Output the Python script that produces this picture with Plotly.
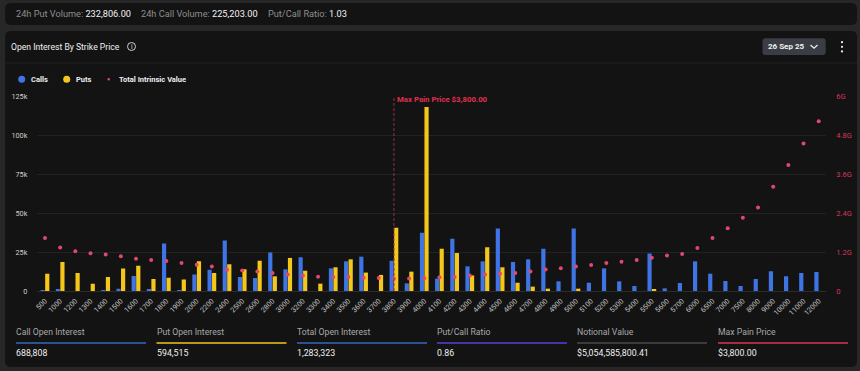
import plotly.graph_objects as go

W, H = 860, 371

strikes = ["500", "1000", "1200", "1300", "1400", "1500", "1600", "1700", "1800", "1900",
           "2000", "2200", "2400", "2500", "2600", "2800", "3000", "3200", "3300", "3400",
           "3500", "3600", "3700", "3800", "3900", "4000", "4100", "4200", "4300", "4400",
           "4500", "4600", "4700", "4800", "4900", "5000", "5100", "5200", "5300", "5400",
           "5500", "5600", "5700", "6000", "6500", "7000", "7500", "8000", "9000", "10000",
           "11000", "12000"]

calls_oi_k = [0.2, 1.3, 0, 0, 0.3, 1.5, 9.6, 1.0, 30.5, 0.3,
              10.5, 13.7, 32.3, 9.0, 8.3, 24.6, 13.9, 21.6, 0, 14.5,
              19.0, 22.0, 0, 19.4, 4.9, 37.4, 7.9, 33.5, 15.8, 19.0,
              40.0, 18.6, 20.3, 27.1, 6.2, 40.0, 5.3, 14.5, 6.2, 3.2,
              24.1, 1.7, 5.1, 19.0, 11.1, 6.4, 3.2, 7.7, 12.6, 9.4,
              11.5, 12.2]

puts_oi_k = [11.1, 18.6, 11.5, 4.7, 9.0, 14.5, 16.2, 7.7, 8.5, 7.3,
             19.0, 11.5, 17.1, 13.9, 19.4, 9.4, 21.2, 13.0, 4.7, 15.2,
             20.3, 11.8, 10.3, 40.6, 12.4, 118.0, 27.1, 24.4, 10.0, 28.0,
             15.2, 5.3, 2.8, 1.5, 0, 1.5, 0, 0, 0, 0,
             0.8, 0, 0, 0, 0, 0, 0, 0, 0, 0,
             0, 0]

intrinsic_g = [1.63, 1.34, 1.22, 1.16, 1.12, 1.07, 0.99, 0.95, 0.92, 0.86,
               0.81, 0.75, 0.65, 0.63, 0.60, 0.55, 0.51, 0.48, 0.44, 0.43,
               0.43, 0.41, 0.40, 0.38, 0.385, 0.395, 0.42, 0.43, 0.48, 0.51,
               0.53, 0.55, 0.60, 0.66, 0.70, 0.75, 0.80, 0.86, 0.90, 0.95,
               1.02, 1.09, 1.14, 1.32, 1.63, 1.93, 2.25, 2.57, 3.21, 3.88,
               4.54, 5.22]

left_tick_vals = [0, 25000, 50000, 75000, 100000, 125000]
left_tick_text = ["0", "25k", "50k", "75k", "100k", "125k"]
right_tick_vals = [0, 1.2e9, 2.4e9, 3.6e9, 4.8e9, 6e9]
right_tick_text = ["0", "1.2G", "2.4G", "3.6G", "4.8G", "6G"]

max_pain_strike = "3800"
max_pain_label = "Max Pain Price $3,800.00"

top_labels = ["24h Put Volume:", "24h Call Volume:", "Put/Call Ratio:"]
top_values = ["232,806.00", "225,203.00", "1.03"]

summary_labels = ["Call Open Interest", "Put Open Interest", "Total Open Interest",
                  "Put/Call Ratio", "Notional Value", "Max Pain Price"]
summary_values = ["688,808", "594,515", "1,283,323", "0.86", "$5,054,585,800.41", "$3,800.00"]

# ---- styles ----
FONT = "Roboto, 'Open Sans', sans-serif"
OUTER_BG = "#272727"
PANEL_BG = "#131313"
CALL_C = "#3f74e4"
PUT_C = "#f5c71a"
DOT_C = "#e2476c"
RED_TXT = "#d8365a"
summary_colors = ["#3a66c4", PUT_C, "#3a66c4", "#5a3fd6", "#4a4a4a", "#d8364f"]

calls_oi = [v * 1000 for v in calls_oi_k]
puts_oi = [v * 1000 for v in puts_oi_k]
intrinsic = [v * 1e9 for v in intrinsic_g]


def px(x):
    return x / W


def py(y):
    return 1 - y / H


def rrect(x0, y0, x1, y1, r):
    pts = [
        f"M{px(x0 + r)},{py(y0)}",
        f"L{px(x1 - r)},{py(y0)}",
        f"Q{px(x1)},{py(y0)} {px(x1)},{py(y0 + r)}",
        f"L{px(x1)},{py(y1 - r)}",
        f"Q{px(x1)},{py(y1)} {px(x1 - r)},{py(y1)}",
        f"L{px(x0 + r)},{py(y1)}",
        f"Q{px(x0)},{py(y1)} {px(x0)},{py(y1 - r)}",
        f"L{px(x0)},{py(y0 + r)}",
        f"Q{px(x0)},{py(y0)} {px(x0 + r)},{py(y0)}",
        "Z",
    ]
    return " ".join(pts)


def note(x, y, text, size, color=None, xanchor="left", xref="paper", **kw):
    d = dict(x=x, y=y, xref=xref, yref="paper", xanchor=xanchor, yanchor="middle",
             showarrow=False, text=text, borderpad=0, borderwidth=0,
             font=dict(family=FONT, size=size, color=color))
    d.update(kw)
    return d


fig = go.Figure()

fig.add_trace(go.Bar(x=strikes, y=calls_oi, name="Calls", marker_color=CALL_C,
                     marker_line_width=0, showlegend=False))
fig.add_trace(go.Bar(x=strikes, y=puts_oi, name="Puts", marker_color=PUT_C,
                     marker_line_width=0, showlegend=False))
fig.add_trace(go.Scatter(x=strikes, y=intrinsic, name="Total Intrinsic Value", mode="markers",
                         marker=dict(color=DOT_C, size=4), yaxis="y2", showlegend=False))

plot_x0, plot_x1 = 37.4, 826.3
plot_y0, plot_y1 = 96, 291

shapes = []
annotations = []

# panels
shapes.append(dict(type="path", path=rrect(5, 3, 857, 25, 6), xref="paper", yref="paper",
                   fillcolor=PANEL_BG, line_width=0, layer="below"))
shapes.append(dict(type="path", path=rrect(5, 31, 857, 367, 6), xref="paper", yref="paper",
                   fillcolor=PANEL_BG, line_width=0, layer="below"))
shapes.append(dict(type="line", x0=px(5), x1=px(857), y0=py(63), y1=py(63), xref="paper", yref="paper",
                   line=dict(color="#232323", width=1), layer="below"))

# top bar texts
top_x = [16, 141, 268]
for xx, lab, val in zip(top_x, top_labels, top_values):
    annotations.append(note(px(xx), py(14),
                            f"<span style='color:#8e8e8e'>{lab}</span> <span style='color:#f2f2f2'>{val}</span>",
                            9.2))

# header
annotations.append(note(px(11), py(46.5), "Open Interest By Strike Price", 8.6, "#f0f0f0"))
shapes.append(dict(type="circle", x0=px(127.5), x1=px(135.5), y0=py(42.5), y1=py(50.5), xref="paper", yref="paper",
                   line=dict(color="#d0d0d0", width=1)))
annotations.append(note(px(131.5), py(46.5), "i", 6.5, "#e0e0e0", xanchor="center"))

# date button
shapes.append(dict(type="path", path=rrect(762.5, 38.3, 825.7, 55, 3), xref="paper", yref="paper",
                   fillcolor="#3a3d44", line_width=0))
annotations.append(note(px(768), py(46.7), "<b>26 Sep 25</b>", 8, "#f2f2f2"))
shapes.append(dict(type="path",
                   path=f"M{px(810.5)},{py(45)} L{px(814)},{py(48.3)} L{px(817.5)},{py(45)}",
                   xref="paper", yref="paper", line=dict(color="#f0f0f0", width=1.2)))
for yy in (42.2, 46.8, 51.4):
    shapes.append(dict(type="circle", x0=px(840.9), x1=px(843.1), y0=py(yy - 1.1), y1=py(yy + 1.1),
                       xref="paper", yref="paper", fillcolor="#f0f0f0", line_width=0))

# custom legend
shapes.append(dict(type="circle", x0=px(18.2), x1=px(25.2), y0=py(75.8), y1=py(82.8), xref="paper", yref="paper",
                   fillcolor=CALL_C, line_width=0))
annotations.append(note(px(31), py(79.3), "<b>Calls</b>", 7.5, "#eeeeee"))
shapes.append(dict(type="circle", x0=px(63.2), x1=px(70.2), y0=py(75.8), y1=py(82.8), xref="paper", yref="paper",
                   fillcolor=PUT_C, line_width=0))
annotations.append(note(px(76), py(79.3), "<b>Puts</b>", 7.5, "#eeeeee"))
shapes.append(dict(type="circle", x0=px(107.4), x1=px(110.0), y0=py(78.0), y1=py(80.6), xref="paper", yref="paper",
                   fillcolor=DOT_C, line_width=0))
annotations.append(note(px(119), py(79.3), "<b>Total Intrinsic Value</b>", 7.5, "#eeeeee"))

# max pain line
mp_idx = strikes.index(max_pain_strike)
shapes.append(dict(type="line", x0=mp_idx, x1=mp_idx, y0=0, y1=1, xref="x", yref="y domain",
                   line=dict(color="#9a2f45", width=1, dash="3px,2px")))
annotations.append(note(mp_idx, py(99.5), f"<b>{max_pain_label}</b>", 7.8, "#e0304f", xref="x", xshift=3))

# summary row
col_x = [16, 156.5, 297, 437, 577, 718]
for xx, lab, val, col in zip(col_x, summary_labels, summary_values, summary_colors):
    annotations.append(note(px(xx), py(332), lab, 8.7, "#a8a8a8"))
    shapes.append(dict(type="line", x0=px(xx), x1=px(xx + 130), y0=py(343), y1=py(343), xref="paper", yref="paper",
                       line=dict(color=col, width=1.5)))
    annotations.append(note(px(xx), py(353), val, 8.8, "#f0f0f0"))

fig.update_layout(
    width=W, height=H,
    autosize=False,
    margin=dict(l=0, r=0, t=0, b=0, pad=0, autoexpand=False),
    paper_bgcolor=OUTER_BG,
    plot_bgcolor=PANEL_BG,
    barmode="group",
    bargap=0.4,
    bargroupgap=0.08,
    showlegend=False,
    font=dict(family=FONT),
    shapes=shapes,
    annotations=annotations,
    xaxis=dict(
        domain=[px(plot_x0), px(plot_x1)],
        type="category",
        range=[-0.5, len(strikes) - 0.5],
        automargin=False,
        tickangle=-45,
        tickfont=dict(size=7.2, color="#c4c4c4", family=FONT),
        showgrid=False,
        showline=True, linecolor="#2c2c2c", linewidth=1,
        ticks="", ticklabelstandoff=2,
        anchor="y",
    ),
    yaxis=dict(
        domain=[py(plot_y1), py(plot_y0)],
        range=[0, 125000],
        automargin=False,
        tickvals=left_tick_vals, ticktext=left_tick_text,
        tickfont=dict(size=7.3, color="#cfcfcf", family=FONT),
        gridcolor="#222222", gridwidth=1,
        zeroline=False, showline=False,
        ticklabelstandoff=9,
    ),
    yaxis2=dict(
        overlaying="y", side="right", anchor="x",
        range=[0, 6e9],
        automargin=False,
        tickvals=right_tick_vals, ticktext=right_tick_text,
        tickfont=dict(size=7.5, color=RED_TXT, family=FONT),
        showgrid=False, zeroline=False, showline=False,
        ticklabelstandoff=9,
    ),
)

fig.write_html("out.html",
               config={"displayModeBar": False},
               post_script="document.body.style.margin='0px';document.body.style.padding='0px';"
                           "document.body.style.overflow='hidden';")
